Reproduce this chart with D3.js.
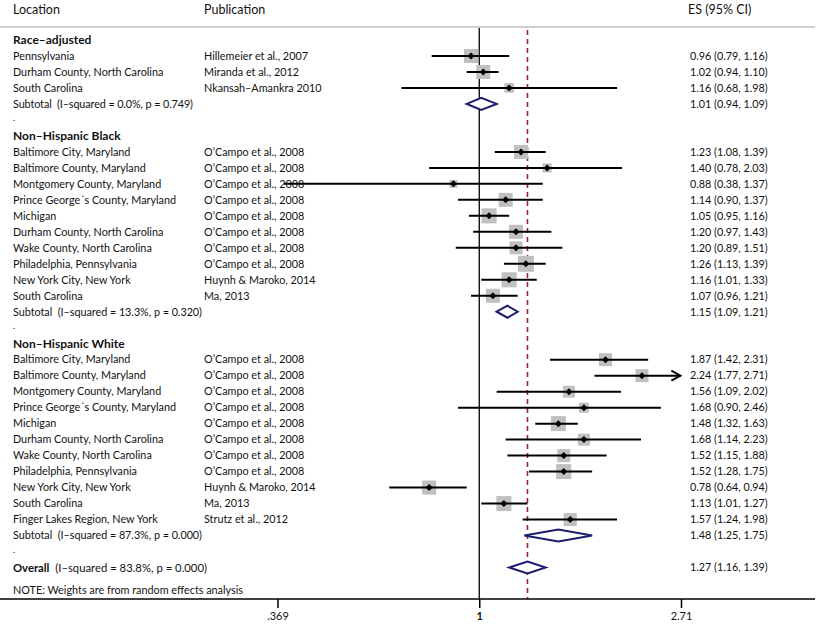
<!DOCTYPE html>
<html><head><meta charset="utf-8">
<script src="https://cdn.jsdelivr.net/npm/d3@7"></script>
<style>
body{margin:0;background:#fff;}
text{font-family:Lato,"Open Sans",sans-serif;fill:#111;}
</style></head>
<body><svg id="c" width="819" height="624"></svg>
<script>
// ---------- data ----------
const headers = ["Location", "Publication", "ES (95% CI)"];
const groupNames = ["Race–adjusted", "Non–Hispanic Black", "Non–Hispanic White"];

const raLocations = ["Pennsylvania", "Durham County, North Carolina", "South Carolina"];
const raPubs = ["Hillemeier et al., 2007", "Miranda et al., 2012", "Nkansah–Amankra 2010"];
const raES = [0.96, 1.02, 1.16];
const raLo = [0.79, 0.94, 0.68];
const raHi = [1.16, 1.10, 1.98];
const raW = [9.8, 9.8, 4.5];
const raSub = {label: "Subtotal  (I–squared = 0.0%, p = 0.749)", es: 1.01, lo: 0.94, hi: 1.09};

const nhbLocations = ["Baltimore City, Maryland", "Baltimore County, Maryland", "Montgomery County, Maryland",
  "Prince George´s County, Maryland", "Michigan", "Durham County, North Carolina", "Wake County, North Carolina",
  "Philadelphia, Pennsylvania", "New York City, New York", "South Carolina"];
const nhbPubs = ["O’Campo et al., 2008", "O’Campo et al., 2008", "O’Campo et al., 2008", "O’Campo et al., 2008",
  "O’Campo et al., 2008", "O’Campo et al., 2008", "O’Campo et al., 2008", "O’Campo et al., 2008",
  "Huynh & Maroko, 2014", "Ma, 2013"];
const nhbES = [1.23, 1.40, 0.88, 1.14, 1.05, 1.20, 1.20, 1.26, 1.16, 1.07];
const nhbLo = [1.08, 0.78, 0.38, 0.90, 0.95, 0.97, 0.89, 1.13, 1.01, 0.96];
const nhbHi = [1.39, 2.03, 1.37, 1.37, 1.16, 1.43, 1.51, 1.39, 1.33, 1.21];
const nhbW = [9.8, 4.1, 3.2, 9.8, 11.3, 9.8, 8.5, 12.8, 11.3, 9.8];
const nhbSub = {label: "Subtotal  (I–squared = 13.3%, p = 0.320)", es: 1.15, lo: 1.09, hi: 1.21};

const nhwLocations = ["Baltimore City, Maryland", "Baltimore County, Maryland", "Montgomery County, Maryland",
  "Prince George´s County, Maryland", "Michigan", "Durham County, North Carolina", "Wake County, North Carolina",
  "Philadelphia, Pennsylvania", "New York City, New York", "South Carolina", "Finger Lakes Region, New York"];
const nhwPubs = ["O’Campo et al., 2008", "O’Campo et al., 2008", "O’Campo et al., 2008", "O’Campo et al., 2008",
  "O’Campo et al., 2008", "O’Campo et al., 2008", "O’Campo et al., 2008", "O’Campo et al., 2008",
  "Huynh & Maroko, 2014", "Ma, 2013", "Strutz et al., 2012"];
const nhwES = [1.87, 2.24, 1.56, 1.68, 1.48, 1.68, 1.52, 1.52, 0.78, 1.13, 1.57];
const nhwLo = [1.42, 1.77, 1.09, 0.90, 1.32, 1.14, 1.15, 1.28, 0.64, 1.01, 1.24];
const nhwHi = [2.31, 2.71, 2.02, 2.46, 1.63, 2.23, 1.88, 1.75, 0.94, 1.27, 1.98];
const nhwW = [8.5, 8.5, 7.2, 5.0, 11.3, 7.2, 8.5, 11.3, 9.8, 11.3, 8.5];
const nhwSub = {label: "Subtotal  (I–squared = 87.3%, p = 0.000)", es: 1.48, lo: 1.25, hi: 1.75};

const overall = {label: "Overall", extra: "  (I–squared = 83.8%, p = 0.000)", es: 1.27, lo: 1.16, hi: 1.39};
const note = "NOTE: Weights are from random effects analysis";
const tickValues = [Math.exp(-1), 1, Math.exp(1)];
const tickLabels = [".369", "1", "2.71"];

// ---------- build rows ----------
const groups = [
  {name: groupNames[0], loc: raLocations, pub: raPubs, es: raES, lo: raLo, hi: raHi, w: raW, sub: raSub},
  {name: groupNames[1], loc: nhbLocations, pub: nhbPubs, es: nhbES, lo: nhbLo, hi: nhbHi, w: nhbW, sub: nhbSub},
  {name: groupNames[2], loc: nhwLocations, pub: nhwPubs, es: nhwES, lo: nhwLo, hi: nhwHi, w: nhwW, sub: nhwSub}
];
const rows = [];
groups.forEach(g => {
  rows.push({type: "head", label: g.name});
  g.loc.forEach((l, i) => rows.push({type: "study", label: l, pub: g.pub[i], es: g.es[i], lo: g.lo[i], hi: g.hi[i], w: g.w[i]}));
  rows.push({type: "sub", label: g.sub.label, es: g.sub.es, lo: g.sub.lo, hi: g.sub.hi});
  rows.push({type: "dot"});
});
rows.push({type: "overall", label: overall.label, extra: overall.extra, es: overall.es, lo: overall.lo, hi: overall.hi});
rows.forEach((r, i) => r.i = i);

// ---------- scales ----------
const svg = d3.select("#c");
const x = d3.scaleLog().domain([Math.exp(-1), Math.exp(1)]).range([277.5, 681]);
const y = d3.scaleLinear().domain([0, rows.length - 1]).range([40, 567.5]);
const size = d3.scaleSqrt().domain([0, 12.8]).range([0, 16]);
const fmt = d3.format(".2f");
const esText = r => `${fmt(r.es)} (${fmt(r.lo)}, ${fmt(r.hi)})`;

const axisY = 599;
const topY = 27;
const fs = 10.8;

// header
svg.append("line").attr("x1", 0).attr("x2", 815).attr("y1", topY).attr("y2", topY)
  .attr("stroke", "#cfcfcf").attr("stroke-width", 2.2);
const hx = [13, 204, 688];
headers.forEach((h, i) => svg.append("text").attr("x", hx[i]).attr("y", 10).attr("dy", "0.35em")
  .attr("font-size", 12.5).text(h));

// reference lines
svg.append("line").attr("x1", x(1)).attr("x2", x(1)).attr("y1", topY + 1).attr("y2", axisY)
  .attr("stroke", "#000").attr("stroke-width", 1.3);
svg.append("line").attr("x1", x(overall.es)).attr("x2", x(overall.es)).attr("y1", topY + 3).attr("y2", axisY)
  .attr("stroke", "#a0232e").attr("stroke-width", 1.6).attr("stroke-dasharray", "5,4");

// text columns
const g = svg.append("g");
rows.forEach(r => {
  const yy = y(r.i);
  if (r.type === "head") {
    g.append("text").attr("x", 13).attr("y", yy).attr("dy", "0.35em").attr("font-size", 12).attr("font-weight", "bold").text(r.label);
  } else if (r.type === "study") {
    g.append("text").attr("x", 13).attr("y", yy).attr("dy", "0.35em").attr("font-size", fs).text(r.label);
    g.append("text").attr("x", 204).attr("y", yy).attr("dy", "0.35em").attr("font-size", fs).text(r.pub);
    g.append("text").attr("x", 690).attr("y", yy).attr("dy", "0.35em").attr("font-size", fs).text(esText(r));
  } else if (r.type === "sub") {
    g.append("text").attr("x", 13).attr("y", yy).attr("dy", "0.35em").attr("font-size", fs)
      .attr("xml:space", "preserve").style("white-space", "pre")
      .attr("textLength", 180 + (r.label.length - 39) * 9).attr("lengthAdjust", "spacing").text(r.label);
    g.append("text").attr("x", 690).attr("y", yy).attr("dy", "0.35em").attr("font-size", fs).text(esText(r));
  } else if (r.type === "dot") {
    g.append("text").attr("x", 13).attr("y", yy - 2).attr("dy", "0.35em").attr("font-size", 9).text(".");
  } else if (r.type === "overall") {
    const t = g.append("text").attr("x", 13).attr("y", yy).attr("dy", "0.35em").attr("font-size", 11.5)
      .style("white-space", "pre")
      .attr("textLength", 194).attr("lengthAdjust", "spacingAndGlyphs");
    t.append("tspan").attr("font-weight", "bold").text(r.label);
    t.append("tspan").text(r.extra);
    g.append("text").attr("x", 690).attr("y", yy).attr("dy", "0.35em").attr("font-size", fs).text(esText(r));
  }
});
svg.append("text").attr("x", 13).attr("y", 590).attr("dy", "0.35em").attr("font-size", 11.5)
  .attr("textLength", 230).attr("lengthAdjust", "spacingAndGlyphs").text(note);

// study marks
const xmax = x.range()[1];
const studies = rows.filter(r => r.type === "study");
const m = svg.append("g");
m.selectAll("rect.box").data(studies).join("rect")
  .attr("x", d => x(d.es) - size(d.w) / 2).attr("y", d => y(d.i) - size(d.w) / 2)
  .attr("width", d => size(d.w)).attr("height", d => size(d.w)).attr("fill", "#c0c0c0");
studies.forEach(d => {
  const yy = y(d.i);
  const x1 = x(d.lo), x2 = Math.min(x(d.hi), xmax);
  m.append("line").attr("x1", x1).attr("x2", x2).attr("y1", yy).attr("y2", yy)
    .attr("stroke", "#000").attr("stroke-width", 2);
  if (d.hi >= Math.exp(1) - 0.01) {
    m.append("path").attr("d", `M${x2 - 9},${yy - 5}L${x2},${yy}L${x2 - 9},${yy + 5}`)
      .attr("fill", "none").attr("stroke", "#000").attr("stroke-width", 2);
  }
  const cx = x(d.es);
  m.append("path").attr("d", `M${cx - 3.5},${yy}L${cx},${yy - 3.5}L${cx + 3.5},${yy}L${cx},${yy + 3.5}Z`).attr("fill", "#000");
});

// diamonds
rows.filter(r => r.type === "sub" || r.type === "overall").forEach(d => {
  const yy = y(d.i), h = 6;
  m.append("path").attr("d", `M${x(d.lo)},${yy}L${x(d.es)},${yy - h}L${x(d.hi)},${yy}L${x(d.es)},${yy + h}Z`)
    .attr("fill", "#fff").attr("stroke", "#1c1c70").attr("stroke-width", 2);
});

// axis
svg.append("line").attr("x1", 0).attr("x2", 815).attr("y1", axisY).attr("y2", axisY).attr("stroke", "#000").attr("stroke-width", 1.5);
const ax = svg.append("g").attr("transform", `translate(0,${axisY})`)
  .call(d3.axisBottom(x).tickValues(tickValues).tickSize(9).tickFormat((d, i) => tickLabels[i]));
ax.select(".domain").remove();
ax.selectAll(".tick line").attr("stroke", "#000").attr("stroke-width", 1.5);
ax.selectAll(".tick text").attr("font-family", "Lato, sans-serif").attr("font-size", 11).attr("fill", "#111").attr("y", 13)
  .attr("font-weight", (d, i) => i === 1 ? "bold" : "normal");
</script></body></html>
